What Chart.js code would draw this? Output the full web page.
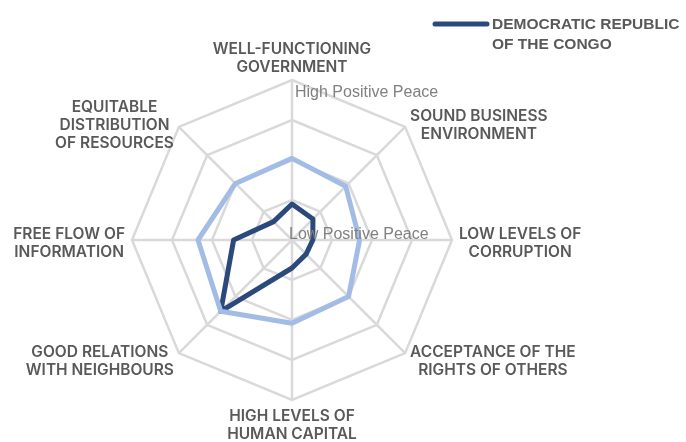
<!DOCTYPE html>
<html>
<head>
<meta charset="utf-8">
<script src="https://cdn.jsdelivr.net/npm/chart.js@4"></script>
<style>
  html, body { margin: 0; padding: 0; background: #fff; }
  canvas { display: block; }
</style>
</head>
<body>
<canvas id="c" width="686" height="442"></canvas>
<script>
// Positive Peace pillars, clockwise from the top
const pillars = [
  ['WELL-FUNCTIONING', 'GOVERNMENT'],
  ['SOUND BUSINESS', 'ENVIRONMENT'],
  ['LOW LEVELS OF', 'CORRUPTION'],
  ['ACCEPTANCE OF THE', 'RIGHTS OF OTHERS'],
  ['HIGH LEVELS OF', 'HUMAN CAPITAL'],
  ['GOOD RELATIONS', 'WITH NEIGHBOURS'],
  ['FREE FLOW OF', 'INFORMATION'],
  ['EQUITABLE', 'DISTRIBUTION', 'OF RESOURCES'],
];
const drcScores = [0.9, 0.74, 0.52, 0.5, 0.7, 2.52, 1.46, 0.65];
const refScores = [2.04, 1.9, 1.69, 2.0, 2.08, 2.52, 2.35, 2.0];
const scaleMin = 0;
const scaleMax = 4;
const highLabel = 'High Positive Peace';
const lowLabel = 'Low Positive Peace';
const legendLines = ['DEMOCRATIC REPUBLIC', 'OF THE CONGO'];

const DARK = '#2b4a7b';
const LIGHT = '#a2bce6';
const TEXT = '#595959';
const GRID = '#d9d9d9';
const LABEL_FONT = '600 15.5px Inter';
const NOTE_FONT = '16px "Liberation Sans", Arial';
const LEGEND_FONT = 'bold 15.5px "Liberation Sans", Arial';

// pillar names drawn around the web, anchored on the scale's own vertices
const pillarLabels = {
  id: 'pillarLabels',
  afterDraw(chart) {
    const s = chart.scales.r;
    const ctx = chart.ctx;
    const lh = 18.3;
    ctx.save();
    ctx.font = LABEL_FONT;
    ctx.fillStyle = TEXT;
    ctx.textAlign = 'center';
    ctx.textBaseline = 'middle';
    pillars.forEach((lines, i) => {
      const p = s.getPointPosition(i, s.drawingArea + 7);
      const w = Math.max(...lines.map((t) => ctx.measureText(t).width));
      const h = lines.length * lh;
      const dx = p.x - s.xCenter;
      const dy = p.y - s.yCenter;
      let cx = p.x, top = p.y - h / 2 + 3.5;
      if (Math.abs(dx) < 2) {
        top = dy < 0 ? p.y - h + 3.5 : p.y;
      } else if (dx > 0) {
        cx = p.x + w / 2;
      } else {
        cx = p.x - w / 2;
      }
      lines.forEach((t, k) => ctx.fillText(t, cx, top + lh * (k + 0.5)));
    });

    // high / low markers on the vertical axis
    ctx.font = NOTE_FONT;
    ctx.fillStyle = '#808080';
    ctx.textAlign = 'left';
    const hi = s.getPointPosition(0, s.getDistanceFromCenterForValue(scaleMax));
    ctx.fillText(highLabel, hi.x + 3, hi.y + 13);
    ctx.fillText(lowLabel, s.xCenter - 3, s.yCenter - 5);

    // legend, DRC only
    const lx = 433, ly = 24;
    ctx.strokeStyle = DARK;
    ctx.lineWidth = 5;
    ctx.lineCap = 'round';
    ctx.beginPath();
    ctx.moveTo(lx + 2, ly);
    ctx.lineTo(lx + 54, ly);
    ctx.stroke();
    ctx.font = LEGEND_FONT;
    ctx.fillStyle = TEXT;
    legendLines.forEach((t, k) => ctx.fillText(t, lx + 59, ly + 1 + k * 19.5));
    ctx.restore();
  },
};

function draw() {
  new Chart(document.getElementById('c'), {
    type: 'radar',
    data: {
      labels: pillars,
      datasets: [
        {
          label: 'Reference', data: refScores, borderColor: LIGHT, backgroundColor: 'transparent',
          borderWidth: 5, pointRadius: 0, borderJoinStyle: 'round',
        },
        {
          label: 'Democratic Republic of the Congo', data: drcScores, borderColor: DARK, backgroundColor: 'transparent',
          borderWidth: 5, pointRadius: 0, borderJoinStyle: 'round',
        },
      ],
    },
    options: {
      responsive: false,
      animation: false,
      layout: { padding: { left: 132, right: 234, top: 80, bottom: 42 } },
      plugins: { legend: { display: false }, tooltip: { enabled: false } },
      scales: {
        r: {
          min: scaleMin, max: scaleMax,
          ticks: { display: false, stepSize: 1 },
          pointLabels: { display: false },
          grid: { color: GRID, lineWidth: 2.5 },
          angleLines: { color: GRID, lineWidth: 2.5 },
        },
      },
    },
    plugins: [pillarLabels],
  });
}

Promise.all([LABEL_FONT, NOTE_FONT, LEGEND_FONT].map((f) => document.fonts.load(f)))
  .catch(() => {})
  .then(draw);
</script>
</body>
</html>
